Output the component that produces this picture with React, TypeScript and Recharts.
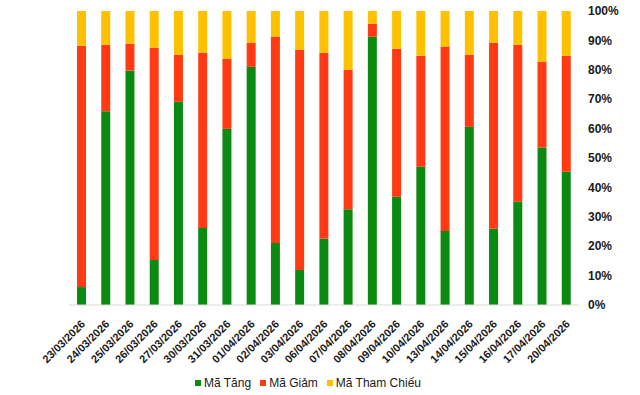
import React from 'react';
import { BarChart, Bar, XAxis, YAxis, Legend } from 'recharts';

const dates = [
  '23/03/2026', '24/03/2026', '25/03/2026', '26/03/2026', '27/03/2026', '30/03/2026', '31/03/2026',
  '01/04/2026', '02/04/2026', '03/04/2026', '06/04/2026', '07/04/2026', '08/04/2026', '09/04/2026',
  '10/04/2026', '13/04/2026', '14/04/2026', '15/04/2026', '16/04/2026', '17/04/2026', '20/04/2026',
];
const tang = [6.1, 65.9, 79.7, 15.3, 69.1, 26.2, 59.9, 81.0, 21.1, 11.9, 22.5, 32.6, 91.3, 36.8, 47.0, 25.2, 60.6, 25.9, 35.1, 53.6, 45.3];
const giam = [82.1, 22.6, 9.2, 72.2, 16.0, 59.6, 23.9, 8.2, 70.2, 74.9, 63.3, 47.4, 4.4, 50.4, 37.8, 62.7, 24.5, 63.3, 53.4, 29.1, 39.5];
const thamChieu = [11.8, 11.5, 11.1, 12.5, 14.9, 14.2, 16.2, 10.8, 8.7, 13.2, 14.2, 20.0, 4.3, 12.8, 15.2, 12.1, 14.9, 10.8, 11.5, 17.3, 15.2];
const yTicks = [0, 10, 20, 30, 40, 50, 60, 70, 80, 90, 100];

const series = [
  { key: 'tang', name: 'Mã Tăng', color: '#0B8A12' },
  { key: 'giam', name: 'Mã Giảm', color: '#FF3A14' },
  { key: 'thamChieu', name: 'Mã Tham Chiếu', color: '#FFC000' },
];

const data = dates.map((d, i) => ({ date: d, tang: tang[i], giam: giam[i], thamChieu: thamChieu[i] }));

const DateTick = (props: any) => {
  const { x, y, payload } = props;
  return (
    <g transform={`translate(${x + 2},${y + 9}) rotate(-45)`}>
      <text x={0} y={0} dy="0.35em" textAnchor="end" fontSize={11} fontWeight="bold" fill="#1a1a1a"
        fontFamily="'Liberation Sans', Arial, sans-serif">
        {payload.value}
      </text>
    </g>
  );
};

const renderLegend = () => (
  <div style={{ display: 'flex', justifyContent: 'center', alignItems: 'center', height: 20,
    fontFamily: "'Liberation Sans', Arial, sans-serif", fontSize: 12, color: '#1a1a1a' }}>
    {series.map((s) => (
      <span key={s.key} style={{ display: 'flex', alignItems: 'center', marginRight: 9 }}>
        <span style={{ width: 6, height: 6, background: s.color, marginRight: 3 }} />
        {s.name}
      </span>
    ))}
  </div>
);

export default function App() {
  return (
    <div style={{ position: 'absolute', left: 0, top: 0 }}>
      <BarChart width={640} height={395} data={data} margin={{ top: 11, right: 12, left: 69, bottom: 2 }}>
        <XAxis dataKey="date" interval={0} height={68} tick={<DateTick />} tickLine={false}
          axisLine={{ stroke: '#d9d9d9' }} />
        <YAxis orientation="right" domain={[0, 100]} ticks={yTicks} width={50} tickLine={false}
          axisLine={false} tickMargin={4} tickFormatter={(v) => `${v}%`}
          tick={{ fontSize: 12, fontWeight: 'bold', fill: '#1a1a1a', fontFamily: "'Liberation Sans', Arial, sans-serif" }} />
        <Legend verticalAlign="bottom" content={renderLegend} wrapperStyle={{ left: 0, width: 625 }} />
        {series.map((s) => (
          <Bar key={s.key} dataKey={s.key} name={s.name} stackId="a" fill={s.color} barSize={9}
            isAnimationActive={false} />
        ))}
      </BarChart>
    </div>
  );
}
